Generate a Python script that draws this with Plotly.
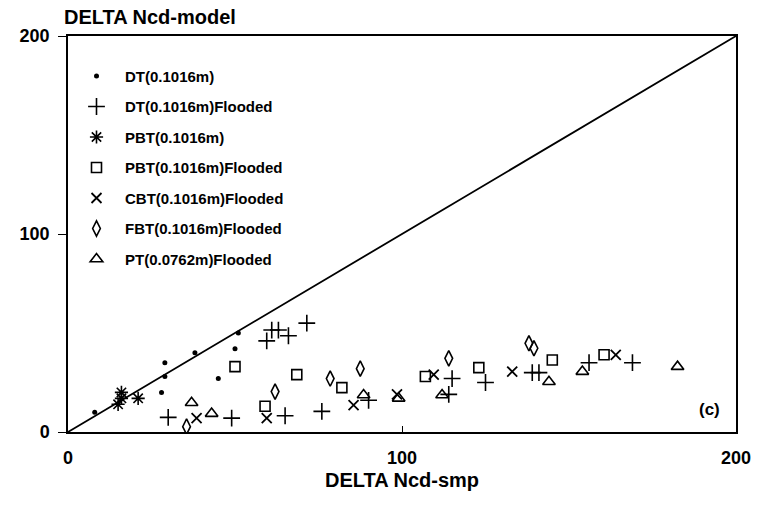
import plotly.graph_objects as go

# DT (0.1016 m)
dt_x = [8, 28, 29, 29, 38, 45, 50, 51]
dt_y = [10, 20, 28, 35, 40, 27, 42, 50]

# DT (0.1016 m) flooded
dtf_x = [30, 49, 59.5, 61, 63, 66, 71.5, 65, 76, 90, 114, 115, 125, 139, 141, 156, 169]
dtf_y = [7.4, 7, 46, 51.5, 51.5, 48.6, 55, 8.2, 10.4, 16, 19, 27, 25, 30, 30, 35, 35]

# PBT (0.1016 m)
pbt_x = [15, 16, 16, 21]
pbt_y = [14, 17, 20, 17]

# PBT (0.1016 m) flooded
pbtf_x = [50, 59, 68.5, 82, 107, 123, 145, 160.5]
pbtf_y = [33, 13, 29, 22.4, 28, 32.5, 36.4, 39]

# CBT (0.1016 m) flooded
cbtf_x = [38.5, 59.5, 85.5, 98.5, 109.5, 133, 164]
cbtf_y = [7, 7, 13.6, 19, 29, 30.5, 39]

# FBT (0.1016 m) flooded
fbtf_x = [35.5, 62, 78.5, 87.5, 114, 138, 139.5]
fbtf_y = [2.7, 20.4, 27, 32, 37.2, 44.8, 42.3]

# PT (0.0762 m) flooded
ptf_x = [37, 43, 88.5, 99, 112, 144, 154, 182.5]
ptf_y = [14.8, 9.3, 18.7, 17, 18.7, 25.4, 30.5, 33]

# reference line y = x
line_x = [0, 200]
line_y = [0, 200]

series = [
    ("DT(0.1016m)", dt_x, dt_y, "circle", 5, 0),
    ("DT(0.1016m)Flooded", dtf_x, dtf_y, "cross-thin-open", 12, 1.6),
    ("PBT(0.1016m)", pbt_x, pbt_y, "asterisk-open", 11, 1.6),
    ("PBT(0.1016m)Flooded", pbtf_x, pbtf_y, "square-open", 10, 1.6),
    ("CBT(0.1016m)Flooded", cbtf_x, cbtf_y, "x-thin-open", 10, 1.8),
    ("FBT(0.1016m)Flooded", fbtf_x, fbtf_y, "diamond-tall-open", 11, 1.6),
    ("PT(0.0762m)Flooded", ptf_x, ptf_y, "triangle-up-open", 11, 1.6),
]

fig = go.Figure()
fig.add_trace(go.Scatter(x=line_x, y=line_y, mode="lines",
                         line=dict(color="black", width=1.8),
                         showlegend=False, hoverinfo="skip"))

for i, (name, xs, ys, sym, size, lw) in enumerate(series):
    fig.add_trace(go.Scatter(
        x=xs, y=ys, mode="markers", name=name, legendgroup=f"g{i}",
        marker=dict(symbol=sym, size=size, color="black",
                    line=dict(color="black", width=lw)),
    ))

font_family = "Liberation Sans, Arial, sans-serif"

fig.update_layout(
    width=772, height=507,
    margin=dict(l=68, r=36, t=36, b=75),
    plot_bgcolor="white", paper_bgcolor="white",
    font=dict(family=font_family, color="black"),
    showlegend=True,
    legend=dict(x=0.0, y=0.94, xanchor="left", yanchor="top",
                bgcolor="rgba(0,0,0,0)", tracegroupgap=8,
                font=dict(size=15, family=font_family, color="black", weight="bold"),
                itemwidth=47),
    xaxis=dict(range=[0, 200], tickvals=[0, 100, 200], ticks="inside", ticklen=6,
               tickcolor="black", showline=True, linecolor="black", linewidth=1.5,
               mirror=True, showgrid=False, zeroline=False, ticklabelstandoff=9,
               tickfont=dict(size=18, weight="bold"),
               title=dict(text="DELTA Ncd-smp", font=dict(size=20, weight="bold"),
                          standoff=6)),
    yaxis=dict(range=[0, 200], tickvals=[0, 100, 200], ticks="outside", ticklen=8,
               tickcolor="black", showline=True, linecolor="black", linewidth=1.5,
               mirror=True, showgrid=False, zeroline=False, ticklabelstandoff=5,
               tickfont=dict(size=18, weight="bold")),
    annotations=[
        dict(text="DELTA Ncd-model", xref="paper", yref="paper", x=-0.009, y=1.0,
             xanchor="left", yanchor="bottom", yshift=6, showarrow=False,
             font=dict(size=20, weight="bold")),
        dict(text="(c)", x=192, y=11.6, xref="x", yref="y", showarrow=False,
             font=dict(size=17, weight="bold")),
    ],
)

fig.write_html("out.html")
